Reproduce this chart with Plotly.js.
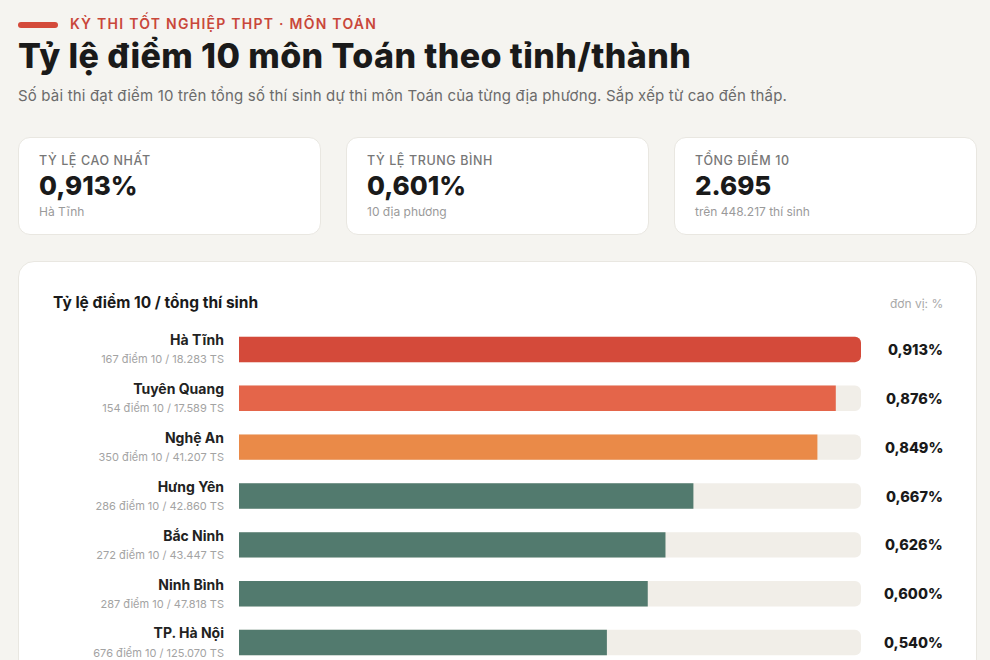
<!DOCTYPE html>
<html lang="vi">
<head>
<meta charset="utf-8">
<script src="https://cdn.plot.ly/plotly-3.0.1.min.js"></script>
<style>
  html, body { margin:0; padding:0; width:990px; height:660px; overflow:hidden; background:#f5f4f0; font-family: Inter, "Noto Sans", sans-serif; color:#1a1a1a; }
  .pill { position:absolute; left:18px; top:22px; width:40px; height:6px; border-radius:3px; background:#d44a3a; }
  .kicker { position:absolute; left:70px; top:15px; font-size:14px; font-weight:600; letter-spacing:1.25px; color:#c9473a; white-space:nowrap; }
  .title { position:absolute; left:18px; top:35px; font-size:34px; font-weight:800; letter-spacing:0.4px; white-space:nowrap; color:#1a1a1a; }
  .sub { position:absolute; left:18px; top:86px; font-size:15px; letter-spacing:0.17px; color:#6b6b6b; white-space:nowrap; }
  .card { position:absolute; top:137px; width:301px; height:96px; background:#fff; border:1px solid #e9e7e1; border-radius:12px; }
  .card .lab { position:absolute; left:20px; top:15px; font-size:12.5px; font-weight:500; letter-spacing:0.6px; color:#777; white-space:nowrap; }
  .card .val { position:absolute; left:20px; top:32px; font-size:26px; font-weight:800; color:#1a1a1a; }
  .card .note { position:absolute; left:20px; top:66px; font-size:12px; color:#9a9a9a; white-space:nowrap; }
  .panel { position:absolute; left:18px; top:261px; width:957px; height:520px; background:#fff; border:1px solid #e9e7e1; border-radius:16px; }
  #chart { position:absolute; left:18px; top:261px; width:959px; height:450px; }
</style>
</head>
<body>
<div class="pill"></div>
<div class="kicker">KỲ THI TỐT NGHIỆP THPT · MÔN TOÁN</div>
<div class="title">Tỷ lệ điểm 10 môn Toán theo tỉnh/thành</div>
<div class="sub">Số bài thi đạt điểm 10 trên tổng số thí sinh dự thi môn Toán của từng địa phương. Sắp xếp từ cao đến thấp.</div>

<div class="card" style="left:18px"><div class="lab">TỶ LỆ CAO NHẤT</div><div class="val" id="kpi1"></div><div class="note" id="kpi1n"></div></div>
<div class="card" style="left:346px"><div class="lab">TỶ LỆ TRUNG BÌNH</div><div class="val" id="kpi2"></div><div class="note" id="kpi2n"></div></div>
<div class="card" style="left:674px"><div class="lab">TỔNG ĐIỂM 10</div><div class="val" id="kpi3"></div><div class="note" id="kpi3n"></div></div>

<div class="panel"></div>
<div id="chart"></div>

<script>
// ---- data ----
const provinces = ["Hà Tĩnh", "Tuyên Quang", "Nghệ An", "Hưng Yên", "Bắc Ninh", "Ninh Bình", "TP. Hà Nội"];
const scores10  = ["167", "154", "350", "286", "272", "287", "676"];
const candidates = ["18.283", "17.589", "41.207", "42.860", "43.447", "47.818", "125.070"];
const rates = [0.913, 0.876, 0.849, 0.667, 0.626, 0.600, 0.540];

const kpiMax = "0,913%", kpiMaxNote = "Hà Tĩnh";
const kpiAvg = "0,601%", kpiAvgNote = "10 địa phương";
const kpiTotal = "2.695", kpiTotalNote = "trên 448.217 thí sinh";

// ---- KPI cards ----
document.getElementById('kpi1').textContent = kpiMax;
document.getElementById('kpi1n').textContent = kpiMaxNote;
document.getElementById('kpi2').textContent = kpiAvg;
document.getElementById('kpi2n').textContent = kpiAvgNote;
document.getElementById('kpi3').textContent = kpiTotal;
document.getElementById('kpi3n').textContent = kpiTotalNote;

// ---- chart ----
const fmt = v => v.toFixed(3).replace('.', ',') + '%';
const maxRate = Math.max(...rates);
const highlight = ["#d44a3a", "#e4654a", "#ea8a48"];
const base = "#527a6e";
const colors = rates.map((v, i) => i < highlight.length ? highlight[i] : base);

const tickText = provinces.map((p, i) =>
  '<b>' + p + '</b><br><span style="font-size:11px;color:#a3a3a3;font-weight:400">' +
  scores10[i] + ' điểm 10 / ' + candidates[i] + ' TS</span>');

const track = {
  type: 'bar', orientation: 'h',
  y: provinces, x: provinces.map(() => maxRate),
  marker: { color: '#f1eee8', cornerradius: 6 },
  width: 0.52, hoverinfo: 'skip', showlegend: false
};
const bars = {
  type: 'bar', orientation: 'h',
  y: provinces, x: rates,
  marker: { color: colors, cornerradius: 6 },
  width: 0.52, showlegend: false,
  hovertemplate: '%{y}: %{x:.3f}%<extra></extra>'
};

const annotations = provinces.map((p, i) => ({
  xref: 'paper', yref: 'y', x: 1.1305, xshift: 3, y: p, xanchor: 'right', yanchor: 'middle',
  text: fmt(rates[i]), showarrow: false,
  font: { family: 'Inter, sans-serif', size: 14.5, color: '#1a1a1a', weight: 800 }
}));
annotations.push({
  xref: 'paper', yref: 'paper', x: -0.2974, xshift: -3, y: 1, yshift: 23, xanchor: 'left', yanchor: 'middle',
  text: 'Tỷ lệ điểm 10 / tổng thí sinh', showarrow: false,
  font: { family: 'Inter, sans-serif', size: 15.5, color: '#1a1a1a', weight: 700 }
});
annotations.push({
  xref: 'paper', yref: 'paper', x: 1.1305, xshift: 3, y: 1, yshift: 22, xanchor: 'right', yanchor: 'middle',
  text: 'đơn vị: %', showarrow: false,
  font: { family: 'Inter, sans-serif', size: 12, color: '#a8a8a8' }
});

const layout = {
  width: 959, height: 450,
  margin: { l: 221, r: 116, t: 64, b: 44 },
  paper_bgcolor: 'rgba(0,0,0,0)', plot_bgcolor: 'rgba(0,0,0,0)',
  barmode: 'overlay',
  font: { family: 'Inter, sans-serif', color: '#1a1a1a' },
  xaxis: { range: [0, maxRate], showgrid: false, zeroline: false, showticklabels: false, fixedrange: true },
  yaxis: {
    type: 'category', autorange: 'reversed', showgrid: false, zeroline: false, ticks: '',
    tickmode: 'array', tickvals: provinces, ticktext: tickText,
    tickfont: { family: 'Inter, sans-serif', size: 14, color: '#222' },
    ticklabelstandoff: 14, fixedrange: true
  },
  annotations: annotations
};

Plotly.newPlot('chart', [track, bars], layout, { displayModeBar: false, staticPlot: true });
</script>
</body>
</html>
